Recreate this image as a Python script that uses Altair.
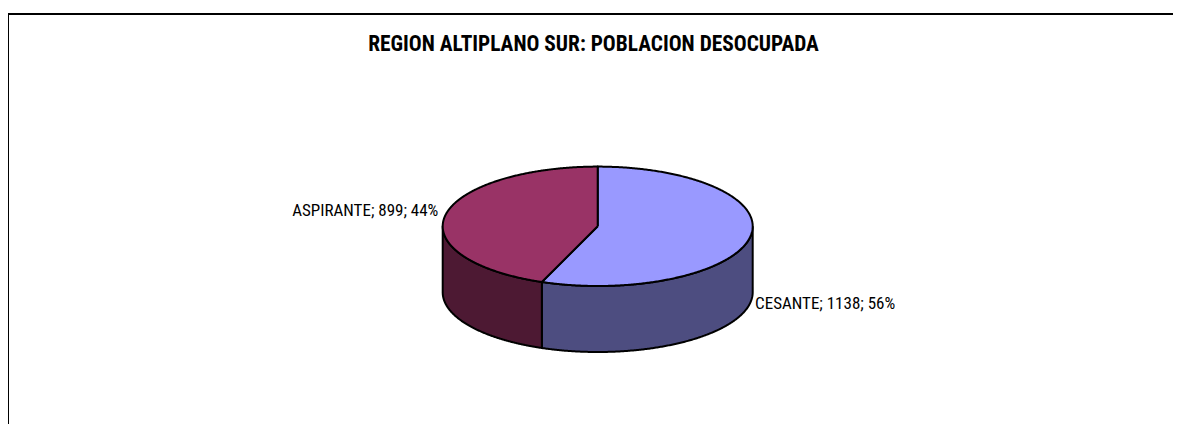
import numpy as np
import pandas as pd
import altair as alt

# ---- data ----
categories = ["CESANTE", "ASPIRANTE"]
values = [1138, 899]
top_colors = ["#9999FF", "#993366"]
side_colors = ["#4D4D80", "#4D1933"]
title_text = "REGION ALTIPLANO SUR: POBLACION DESOCUPADA"

# ---- layout (page pixels) ----
OX, OY = 10, 8          # plot-area origin on the page
W, H = 1163, 416        # plot-area size
CX, CY = 597.7, 226.3   # centre of the pie's top ellipse
RX, RY = 155.0, 59.7    # ellipse radii
DEPTH = 66.0            # thickness of the 3-D pie
K = RY / RX
D = DEPTH / RX
FONT = "Roboto Condensed, Liberation Sans, sans-serif"

total = sum(values)
fracs = [v / total for v in values]
starts = np.cumsum([0.0] + fracs[:-1])

rows = []
face_names, face_colors = [], []
for i, (cat, f, s) in enumerate(zip(categories, fracs, starts)):
    a0, a1 = 2 * np.pi * s, 2 * np.pi * (s + f)
    lo, hi = max(a0, np.pi / 2), min(a1, 3 * np.pi / 2)
    if hi > lo:
        name = f"side-{cat}"
        face_names.append(name)
        face_colors.append(side_colors[i])
        ts = np.linspace(lo, hi, 240)
        pts = [(np.sin(t), K * np.cos(t)) for t in ts]
        pts += [(np.sin(t), K * np.cos(t) - D) for t in ts[::-1]]
        pts.append(pts[0])
        for j, (x, y) in enumerate(pts):
            rows.append({"face": name, "o": j, "x": x, "y": y})
for i, (cat, f, s) in enumerate(zip(categories, fracs, starts)):
    a0, a1 = 2 * np.pi * s, 2 * np.pi * (s + f)
    name = f"top-{cat}"
    face_names.append(name)
    face_colors.append(top_colors[i])
    ts = np.linspace(a0, a1, 400)
    pts = [(0.0, 0.0)] + [(np.sin(t), K * np.cos(t)) for t in ts] + [(0.0, 0.0)]
    for j, (x, y) in enumerate(pts):
        rows.append({"face": name, "o": j, "x": x, "y": y})
faces = pd.DataFrame(rows)

lab_rows = []
for cat, v, f, s in zip(categories, values, fracs, starts):
    m = 2 * np.pi * (s + f / 2)
    ly = K * np.cos(m) - (D if np.cos(m) < 0 else 0.0)
    lab_rows.append({"label": f"{cat}; {v}; {round(f * 100)}%",
                     "lx": np.sin(m), "ly": ly})
labels = pd.DataFrame(lab_rows)

xdom = [(OX - CX) / RX, (OX + W - CX) / RX]
ydom = [(CY - OY - H) / RX, (CY - OY) / RX]
xs = alt.Scale(domain=xdom, nice=False, zero=False)
ys = alt.Scale(domain=ydom, nice=False, zero=False)

pie = alt.Chart(faces).mark_line(stroke="black", strokeWidth=2, strokeJoin="round").encode(
    x=alt.X("x:Q", scale=xs, axis=None),
    y=alt.Y("y:Q", scale=ys, axis=None),
    fill=alt.Fill("face:N", scale=alt.Scale(domain=face_names, range=face_colors), legend=None),
    detail="face:N",
    order="o:Q",
)

lab_right = alt.Chart(labels).transform_filter("datum.lx > 0").mark_text(
    align="left", baseline="middle", font=FONT, fontSize=17, dx=5, dy=1, color="black"
).encode(x=alt.X("lx:Q", scale=xs), y=alt.Y("ly:Q", scale=ys), text="label:N")

lab_left = alt.Chart(labels).transform_filter("datum.lx <= 0").mark_text(
    align="right", baseline="middle", font=FONT, fontSize=17, dx=-7, dy=-4, color="black"
).encode(x=alt.X("lx:Q", scale=xs), y=alt.Y("ly:Q", scale=ys), text="label:N")

title = alt.Chart(pd.DataFrame({"t": [title_text]})).mark_text(
    align="center", baseline="alphabetic", font=FONT, fontSize=21.4, fontWeight="bold", color="black"
).encode(x=alt.value(593.5 - OX), y=alt.value(50.7 - OY), text="t:N")

frame_data = pd.DataFrame({"a": [0]})
frame_left = alt.Chart(frame_data).mark_rule(color="black", strokeWidth=2).encode(
    x=alt.value(8 - OX), y=alt.value(13 - OY), y2=alt.value(H + 20))
frame_top = alt.Chart(frame_data).mark_rule(color="black", strokeWidth=2).encode(
    x=alt.value(8 - OX - 1), x2=alt.value(W + 20), y=alt.value(14 - OY))

chart = alt.layer(frame_left, frame_top, pie, lab_right, lab_left, title).properties(
    width=W, height=H,
    autosize=alt.AutoSizeParams(type="none"),
    padding={"left": OX - 8, "top": OY - 8, "right": 0, "bottom": 0},
).configure(background="white").configure_view(stroke="transparent", strokeWidth=0)

chart.save("out.html", embed_options={"renderer": "svg", "actions": False})
